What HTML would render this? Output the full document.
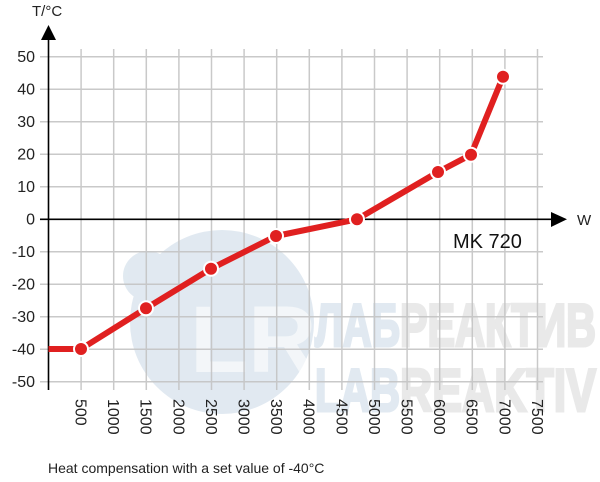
<!DOCTYPE html>
<html><head><meta charset="utf-8"><style>
html,body{margin:0;padding:0;background:#fff}
svg{display:block}
text{font-family:"Liberation Sans",sans-serif}
</style></head><body>
<svg width="600" height="482" viewBox="0 0 600 482" xmlns="http://www.w3.org/2000/svg">
<!-- watermark -->
<g opacity="0.85">
<circle cx="222" cy="322" r="92" fill="#dce6ef"/>
<circle cx="148" cy="276" r="25" fill="#dce6ef"/>
<text x="190" y="372" font-size="95" font-weight="bold" fill="#ffffff" fill-opacity="0.6">LR</text>
<g font-size="60" font-weight="bold" stroke-width="3" lengthAdjust="spacingAndGlyphs">
<text x="315" y="346" fill="#dce6ef" stroke="#dce6ef" textLength="85" lengthAdjust="spacingAndGlyphs">ЛАБ</text>
<text x="400" y="346" fill="#e6e6e6" stroke="#e6e6e6" textLength="196" lengthAdjust="spacingAndGlyphs">РЕАКТИВ</text>
<text x="315" y="411" fill="#dce6ef" stroke="#dce6ef" textLength="85" lengthAdjust="spacingAndGlyphs">LAB</text>
<text x="400" y="411" fill="#e6e6e6" stroke="#e6e6e6" textLength="196" lengthAdjust="spacingAndGlyphs">REAKTIV</text>
</g>
</g>
<!-- grid -->
<g stroke="#c4c4c4" stroke-width="1.5" opacity="0.9">
<line x1="40" y1="56.7" x2="543" y2="56.7"/>
<line x1="40" y1="89.2" x2="543" y2="89.2"/>
<line x1="40" y1="121.7" x2="543" y2="121.7"/>
<line x1="40" y1="154.2" x2="543" y2="154.2"/>
<line x1="40" y1="186.7" x2="543" y2="186.7"/>
<line x1="40" y1="251.8" x2="543" y2="251.8"/>
<line x1="40" y1="284.3" x2="543" y2="284.3"/>
<line x1="40" y1="316.8" x2="543" y2="316.8"/>
<line x1="40" y1="349.3" x2="543" y2="349.3"/>
<line x1="40" y1="381.8" x2="543" y2="381.8"/>
<line x1="81.1" y1="49" x2="81.1" y2="390"/>
<line x1="113.7" y1="49" x2="113.7" y2="390"/>
<line x1="146.3" y1="49" x2="146.3" y2="390"/>
<line x1="178.9" y1="49" x2="178.9" y2="390"/>
<line x1="211.5" y1="49" x2="211.5" y2="390"/>
<line x1="244.1" y1="49" x2="244.1" y2="390"/>
<line x1="276.7" y1="49" x2="276.7" y2="390"/>
<line x1="309.3" y1="49" x2="309.3" y2="390"/>
<line x1="341.9" y1="49" x2="341.9" y2="390"/>
<line x1="374.5" y1="49" x2="374.5" y2="390"/>
<line x1="407.1" y1="49" x2="407.1" y2="390"/>
<line x1="439.7" y1="49" x2="439.7" y2="390"/>
<line x1="472.3" y1="49" x2="472.3" y2="390"/>
<line x1="504.9" y1="49" x2="504.9" y2="390"/>
<line x1="537.5" y1="49" x2="537.5" y2="390"/>
</g>
<!-- axes -->
<line x1="48.5" y1="38" x2="48.5" y2="390" stroke="#000" stroke-width="1.6"/>
<polygon points="48.5,25 41,40 56,40" fill="#000"/>
<line x1="40" y1="219.3" x2="552" y2="219.3" stroke="#000" stroke-width="1.6"/>
<polygon points="567,219.3 551,212 551,227" fill="#000"/>
<text x="577" y="225" font-size="15" fill="#222">W</text>
<text x="32" y="16" font-size="15" fill="#222">T/°C</text>
<g font-size="16" fill="#222" text-anchor="end">
<text x="35" y="62">50</text><text x="35" y="94.5">40</text><text x="35" y="127">30</text>
<text x="35" y="159.5">20</text><text x="35" y="192">10</text><text x="35" y="224.5">0</text>
<text x="35" y="257">-10</text><text x="35" y="289.5">-20</text><text x="35" y="322">-30</text>
<text x="35" y="354.5">-40</text><text x="35" y="387">-50</text>
</g>
<g font-size="16" fill="#222">
<text transform="translate(75.5,399) rotate(90)">500</text>
<text transform="translate(108.1,399) rotate(90)">1000</text>
<text transform="translate(140.7,399) rotate(90)">1500</text>
<text transform="translate(173.3,399) rotate(90)">2000</text>
<text transform="translate(205.9,399) rotate(90)">2500</text>
<text transform="translate(238.5,399) rotate(90)">3000</text>
<text transform="translate(271.1,399) rotate(90)">3500</text>
<text transform="translate(303.7,399) rotate(90)">4000</text>
<text transform="translate(336.3,399) rotate(90)">4500</text>
<text transform="translate(368.9,399) rotate(90)">5000</text>
<text transform="translate(401.5,399) rotate(90)">5500</text>
<text transform="translate(434.1,399) rotate(90)">6000</text>
<text transform="translate(466.7,399) rotate(90)">6500</text>
<text transform="translate(499.3,399) rotate(90)">7000</text>
<text transform="translate(531.9,399) rotate(90)">7500</text>
</g>
<text x="453" y="248" font-size="20" fill="#111">MK 720</text>
<text x="48" y="473" font-size="14" fill="#222">Heat compensation with a set value of -40°C</text>
<!-- series -->
<polyline points="48.5,349 81,349 146,308.3 211,268.7 276,236 357,219.3 438,172 471,154.7 503,76.7" fill="none" stroke="#e02020" stroke-width="6" stroke-linejoin="round"/>
<g fill="#e02020" stroke="#fff" stroke-width="2">
<circle cx="81" cy="349" r="7"/><circle cx="146" cy="308.3" r="7"/><circle cx="211" cy="268.7" r="7"/>
<circle cx="276" cy="236" r="7"/><circle cx="357" cy="219.3" r="7"/><circle cx="438" cy="172" r="7"/>
<circle cx="471" cy="154.7" r="7"/><circle cx="503" cy="76.7" r="7"/>
</g>
</svg>
</body></html>
